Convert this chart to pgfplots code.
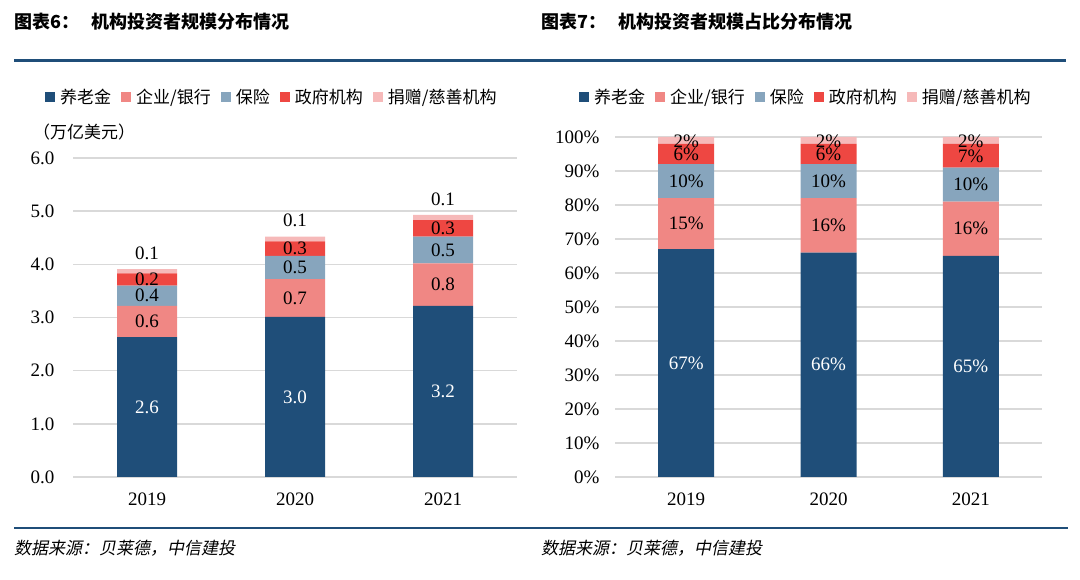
\documentclass[border=0pt]{standalone}
\usepackage{fontspec}
\setmainfont{Liberation Serif}
\newfontfamily\cjk{Noto Sans CJK SC}
\newfontfamily\cjkit[FakeSlant=0.2]{Noto Sans CJK SC}
\usepackage{pgfplots}
\pgfplotsset{compat=1.18}

\definecolor{c1}{HTML}{1F4E79}
\definecolor{c2}{HTML}{F08784}
\definecolor{c3}{HTML}{87A5BD}
\definecolor{c4}{HTML}{EE4742}
\definecolor{c5}{HTML}{F6B9B9}
\definecolor{gridc}{HTML}{D9D9D9}
\definecolor{lineblue}{HTML}{1F4E79}

\tikzset{lab/.style={font=\fontsize{19}{22}\selectfont, inner sep=0pt, anchor=center}}
\pgfplotsset{
  mybar/.style={
    ybar stacked, scale only axis,
    xmin=-0.5, xmax=2.5, xtick={0,1,2}, xticklabels={2019,2020,2021},
    axis line style={draw=none}, major tick length=0pt,
    ymajorgrids, grid style={gridc, line width=1.5pt},
    tick label style={font=\fontsize{19}{22}\selectfont},
    xticklabel style={yshift=-12pt},
    legend columns=5,
    legend style={draw=none, fill=none, anchor=center,
      font=\cjk\fontsize{17}{20}\selectfont,
      /tikz/every even column/.append style={column sep=8pt},
      /tikz/every odd column/.append style={column sep=3pt}},
    legend image code/.code={\fill[##1] (0pt,-5pt) rectangle (10pt,5pt);},
  },
  labaxis/.style={scale only axis, hide axis, clip=false,
    xmin=-0.5, xmax=2.5},
  labw/.style={draw=none, mark=none, nodes near coords, point meta=explicit symbolic,
    every node near coord/.style={lab, text=white}},
  labk/.style={draw=none, mark=none, nodes near coords, point meta=explicit symbolic,
    every node near coord/.style={lab, text=black}},
}

\begin{document}
\begin{tikzpicture}
\path (0pt,0pt) rectangle (1080pt,579pt);

% titles and rules
\node[anchor=west, inner sep=0pt, font=\cjk\bfseries\fontsize{18}{21}\selectfont] at (14pt,557pt) {图表6：\hspace{12pt}机构投资者规模分布情况};
\node[anchor=west, inner sep=0pt, font=\cjk\bfseries\fontsize{18}{21}\selectfont] at (541pt,557pt) {图表7：\hspace{12pt}机构投资者规模占比分布情况};
\draw[lineblue, line width=3pt] (14pt,518pt) -- (1066pt,518pt);
\draw[lineblue, line width=2.5pt] (14pt,51pt) -- (1068pt,51pt);
\node[anchor=west, inner sep=0pt, font=\cjkit\fontsize{17}{20}\selectfont] at (14pt,31pt) {数据来源：贝莱德，中信建投};
\node[anchor=west, inner sep=0pt, font=\cjkit\fontsize{17}{20}\selectfont] at (541pt,31pt) {数据来源：贝莱德，中信建投};
\node[anchor=west, inner sep=0pt, font=\cjk\fontsize{17}{20}\selectfont] at (33pt,447pt) {（万亿美元）};

% left: scale (trillion USD)
\begin{axis}[mybar, at={(73pt,102pt)}, anchor=south west,
  width=444pt, height=319pt, bar width=60pt,
  ymin=0, ymax=6, ytick={0,1,2,3,4,5,6},
  yticklabels={0.0,1.0,2.0,3.0,4.0,5.0,6.0},
  yticklabel style={xshift=-15pt},
  legend style={at={(0.448,1.191)}}]
\addplot[fill=c1, draw=none] coordinates {(0,2.63) (1,3.01) (2,3.22)};
\addplot[fill=c2, draw=none] coordinates {(0,0.59) (1,0.71) (2,0.80)};
\addplot[fill=c3, draw=none] coordinates {(0,0.38) (1,0.44) (2,0.50)};
\addplot[fill=c4, draw=none] coordinates {(0,0.23) (1,0.27) (2,0.31)};
\addplot[fill=c5, draw=none] coordinates {(0,0.08) (1,0.09) (2,0.10)};
\legend{养老金,企业/银行,保险,政府机构,捐赠/慈善机构}
\end{axis}
\begin{axis}[labaxis, at={(73pt,102pt)}, anchor=south west,
  width=444pt, height=319pt, ymin=0, ymax=6]
\addplot[labw] table[row sep=\\, meta=l] {x y l\\ 0 1.315 2.6\\ 1 1.505 3.0\\ 2 1.61 3.2\\};
\addplot[labk] table[row sep=\\, meta=l] {x y l\\
0 2.925 0.6\\ 0 3.41 0.4\\ 0 3.715 0.2\\ 0 4.21 0.1\\
1 3.365 0.7\\ 1 3.94 0.5\\ 1 4.295 0.3\\ 1 4.82 0.1\\
2 3.62 0.8\\ 2 4.27 0.5\\ 2 4.675 0.3\\ 2 5.23 0.1\\};
\end{axis}

% right: share
\begin{axis}[mybar, at={(615pt,102pt)}, anchor=south west,
  width=427pt, height=340pt, bar width=56pt,
  ymin=0, ymax=100, ytick={0,10,...,100},
  yticklabels={0\%,10\%,20\%,30\%,40\%,50\%,60\%,70\%,80\%,90\%,100\%},
  yticklabel style={xshift=-12pt},
  legend style={at={(0.447,1.118)}}]
\addplot[fill=c1, draw=none] coordinates {(0,67) (1,66) (2,65)};
\addplot[fill=c2, draw=none] coordinates {(0,15) (1,16) (2,16)};
\addplot[fill=c3, draw=none] coordinates {(0,10) (1,10) (2,10)};
\addplot[fill=c4, draw=none] coordinates {(0,6) (1,6) (2,7)};
\addplot[fill=c5, draw=none] coordinates {(0,2) (1,2) (2,2)};
\legend{养老金,企业/银行,保险,政府机构,捐赠/慈善机构}
\end{axis}
\begin{axis}[labaxis, at={(615pt,102pt)}, anchor=south west,
  width=427pt, height=340pt, ymin=0, ymax=100]
\addplot[labw] table[row sep=\\, meta=l] {x y l\\ 0 33.5 67\%\\ 1 33 66\%\\ 2 32.5 65\%\\};
\addplot[labk] table[row sep=\\, meta=l] {x y l\\
0 74.5 15\%\\ 0 87 10\%\\ 0 94.8 6\%\\ 0 98.6 2\%\\
1 74 16\%\\ 1 87 10\%\\ 1 94.8 6\%\\ 1 98.6 2\%\\
2 73 16\%\\ 2 86 10\%\\ 2 94.3 7\%\\ 2 98.6 2\%\\};
\end{axis}
\end{tikzpicture}
\end{document}
